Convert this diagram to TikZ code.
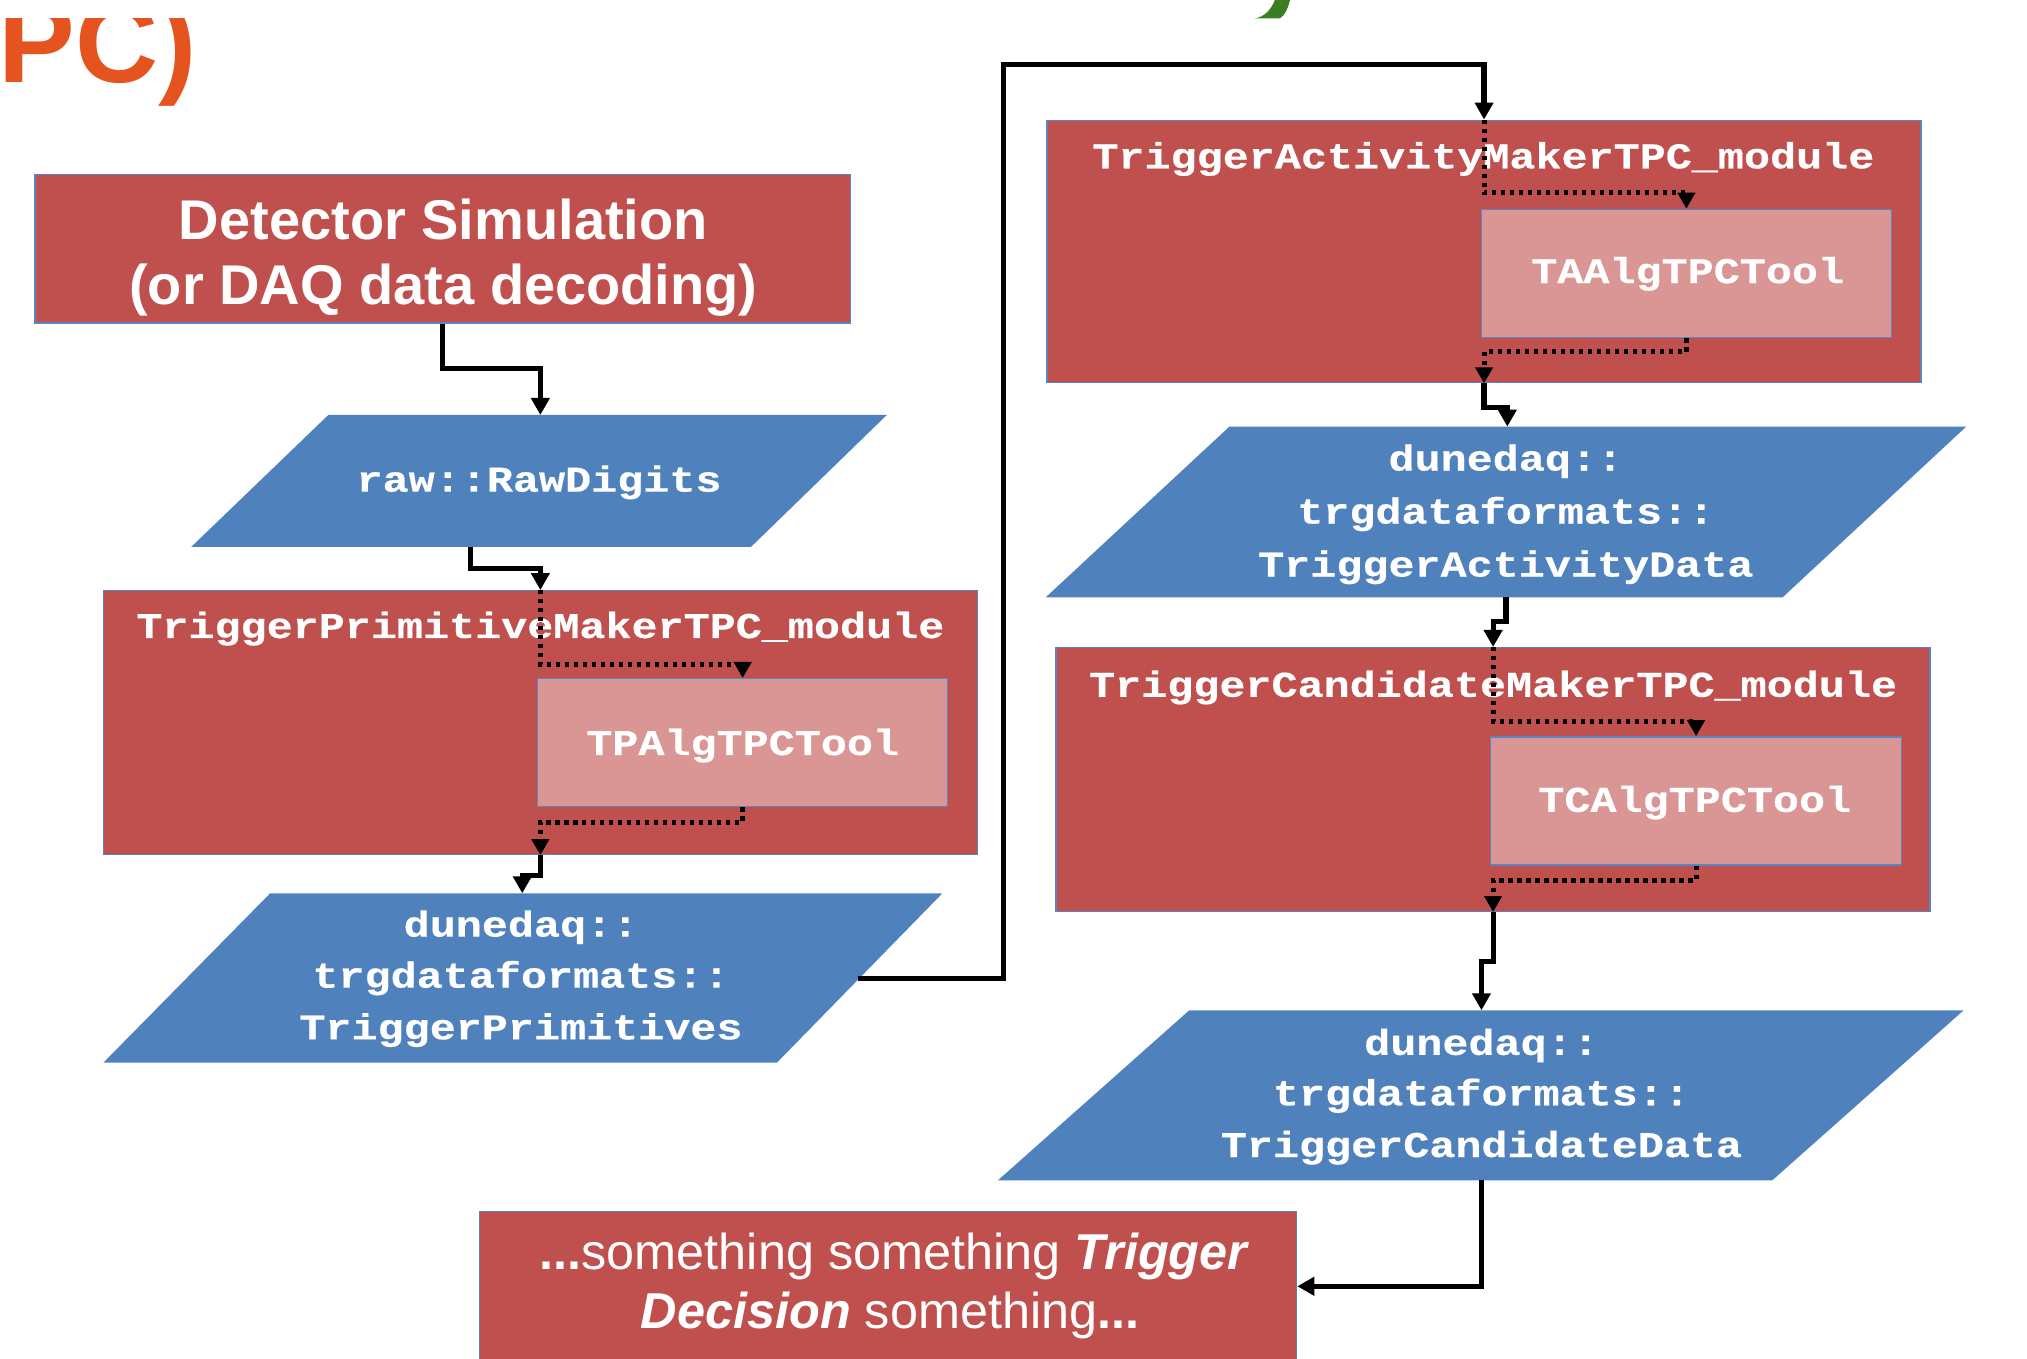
\documentclass[tikz,border=0pt]{standalone}
\usepackage{fontspec}
\setmainfont{Liberation Sans}
\newfontfamily\monofont{Liberation Mono}[FakeStretch=1.2,BoldFeatures={FakeBold=0.5}]
\usetikzlibrary{arrows.meta,fit}
\definecolor{boxred}{HTML}{C0504D}
\definecolor{parablue}{HTML}{4F81BD}
\definecolor{toolpink}{HTML}{D99694}
\definecolor{edgeblue}{HTML}{5B84C0}
\definecolor{titleorange}{HTML}{E5541F}
\definecolor{titlegreen}{HTML}{3A7D22}
\begin{document}
\begin{tikzpicture}[x=0.6464pt,y=-0.6464pt,
  redbox/.style={fill=boxred, draw=edgeblue, line width=0.7pt, inner sep=0pt},
  toolbox/.style={fill=toolpink, draw=edgeblue, line width=0.7pt, inner sep=0pt},
  para/.style={fill=parablue},
  monotext/.style={text=white, font=\monofont\bfseries\fontsize{18.1}{22}\selectfont, inner sep=0pt, anchor=base},
  sanstext/.style={text=white, inner sep=0pt, anchor=base},
  conn/.style={line width=2.6pt, -{Triangle[length=8.5pt,width=9pt]}},
  dotconn/.style={line width=2.5pt, dash pattern=on 2.2pt off 2.3pt, -{Triangle[length=8pt,width=8.5pt]}}
]
\useasboundingbox (0,0) rectangle (1568,1051.26);

% title fragments
\begin{scope}
  \clip (-5,14.2) rectangle (300,120);
  \node[anchor=base west, inner sep=0pt, text=titleorange, font=\bfseries\fontsize{57.5}{60}\selectfont] (title) at (-1.3,64.2) {PC)};
\end{scope}
\fill[titlegreen] (986.2,0) -- (997.9,0) .. controls (996,7) and (994,12) .. (990,14.2) -- (970.8,14.2) .. controls (978,13) and (983,8) .. (986.2,0) -- cycle;

% boxes
\node[redbox, fit={(27,135) (658,250)}] (det) {};
\node[redbox, fit={(80,457) (756,661)}] (tpm) {};
\node[toolbox, fit={(416,525) (733,624)}] (tpa) {};
\node[redbox, fit={(810,93) (1486,296)}] (tam) {};
\node[toolbox, fit={(1146,162) (1463,261)}] (taa) {};
\node[redbox, fit={(817,501) (1493,705)}] (tcm) {};
\node[toolbox, fit={(1153,570) (1471,669)}] (tca) {};
\node[redbox, fit={(371,937) (1003,1053)}] (td) {};

% parallelograms
\fill[para] (254,321) -- (686,321) -- (581,423) -- (148,423) -- cycle;
\fill[para] (209,691) -- (729,691) -- (601,822) -- (80,822) -- cycle;
\fill[para] (951,330) -- (1521,330) -- (1379,462) -- (809,462) -- cycle;
\fill[para] (920,781.5) -- (1519,781.5) -- (1371,913) -- (772,913) -- cycle;
\coordinate (rdN) at (418,321);
\coordinate (rdS) at (364,423);
\coordinate (tpdN) at (404,691);
\coordinate (tpdE) at (664,757);
\coordinate (tadN) at (1166,330);
\coordinate (tadS) at (1165,462);
\coordinate (tcdN) at (1146,781.5);
\coordinate (tcdS) at (1146,913);

% texts
\node[sanstext, font=\bfseries\fontsize{28}{33}\selectfont] (det1) at (343,185.1) {Detector Simulation};
\node[sanstext, font=\bfseries\fontsize{28}{33}\selectfont] (det2) at (343,235.2) {(or DAQ data decoding)};
\node[monotext] (rdT) at (417,380.3) {raw::RawDigits};
\node[monotext] (tpmT) at (418,493.5) {TriggerPrimitiveMakerTPC\_module};
\node[monotext] (tpaT) at (574.5,584) {TPAlgTPCTool};
\node[monotext] (tpd1) at (403,724.5) {dunedaq::};
\node[monotext] (tpd2) at (403,764) {trgdataformats::};
\node[monotext] (tpd3) at (403,804) {TriggerPrimitives};
\node[monotext] (tamT) at (1147.5,130.2) {TriggerActivityMakerTPC\_module};
\node[monotext] (taaT) at (1305.5,219) {TAAlgTPCTool};
\node[monotext] (tad1) at (1164.8,364) {dunedaq::};
\node[monotext] (tad2) at (1164.8,405) {trgdataformats::};
\node[monotext] (tad3) at (1164.8,446) {TriggerActivityData};
\node[monotext] (tcmT) at (1155,539) {TriggerCandidateMakerTPC\_module};
\node[monotext] (tcaT) at (1311,628) {TCAlgTPCTool};
\node[monotext] (tcd1) at (1146,816) {dunedaq::};
\node[monotext] (tcd2) at (1146,855) {trgdataformats::};
\node[monotext] (tcd3) at (1146,895) {TriggerCandidateData};
\node[sanstext, font=\fontsize{25.2}{29}\selectfont] (td1) at (692,982.4) {\textbf{...}something something \textbf{\textit{Trigger}}};
\node[sanstext, font=\fontsize{25.2}{29}\selectfont] (td2) at (688.5,1027.5) {\textbf{\textit{Decision}} something\textbf{...}};

% connectors
\draw[conn] (det.south) -- (342.5,285) -| (rdN);
\draw[conn] (rdS) -- (364,440) -| (tpm.north);
\draw[dotconn] (tpm.north) -- (418,514) -| (tpa.north);
\draw[dotconn] (tpa.south) -- (574.5,636) -| (tpm.south);
\draw[conn] (tpm.south) -- (418,677) -| (tpdN);
\draw[conn] (tpdE) -| (776,50) -| (tam.north);
\draw[dotconn] (tam.north) -- (1148,149) -| (taa.north);
\draw[dotconn] (taa.south) -- (1304.5,272) -| (tam.south);
\draw[conn] (tam.south) -- (1148,315) -| (tadN);
\draw[conn] (tadS) -- (1165,481) -| (tcm.north);
\draw[dotconn] (tcm.north) -- (1155,558) -| (tca.north);
\draw[dotconn] (tca.south) -- (1312,681) -| (tcm.south);
\draw[conn] (tcm.south) -- (1155,744) -| (tcdN);
\draw[conn] (tcdS) |- (td.east);
\end{tikzpicture}
\end{document}
